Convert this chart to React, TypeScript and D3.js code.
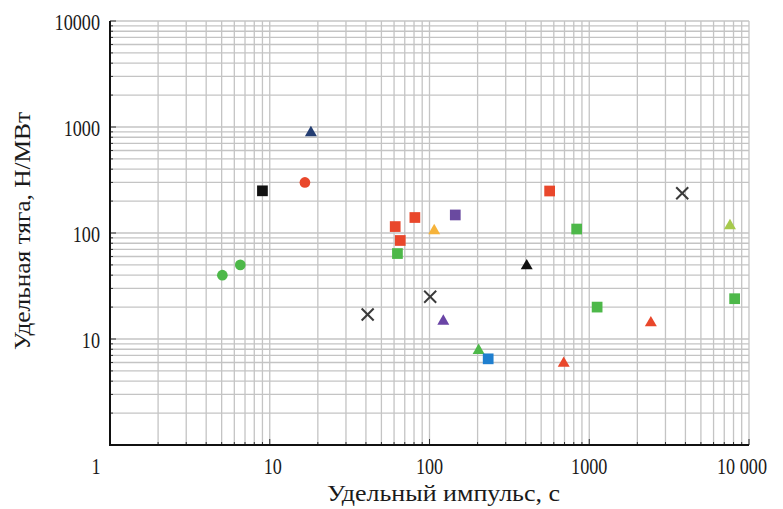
import { useRef, useEffect } from 'react';
import * as d3 from 'd3';

// [specific impulse, s ; specific thrust, N/MW]
const greenCircles = [[5.05, 40], [6.54, 50]];
const blackSquares = [[9, 250]];
const redCircles = [[16.6, 300]];
const navyTriangles = [[18.1, 884]];
const crosses = [[41, 17], [101, 25], [3820, 237]];
const redSquares = [[61, 115], [65.6, 85], [81, 140], [565, 249]];
const greenSquares = [[63, 64], [834, 109], [1120, 20], [8130, 24]];
const yellowTriangles = [[107, 105]];
const purpleSquares = [[145, 148]];
const purpleTriangles = [[122, 14.7]];
const greenTriangles = [[203, 7.8]];
const blueSquares = [[233, 6.5]];
const blackTriangles = [[406, 49]];
const redTriangles = [[692, 5.9], [2430, 14.2]];
const limeTriangles = [[7600, 117]];

const xTicks = [1, 10, 100, 1000, 10000];
const xTickLabels = ['1', '10', '100', '1000', '10 000'];
const yTicks = [10, 100, 1000, 10000];
const yTickLabels = ['10', '100', '1000', '10000'];

const xTitle = 'Удельный импульс, с';
const yTitle = 'Удельная тяга, Н/МВт';

const series = [
  { data: greenCircles, shape: 'circle', color: '#4db849' },
  { data: blackSquares, shape: 'square', color: '#111111' },
  { data: redCircles, shape: 'circle', color: '#e9472b' },
  { data: navyTriangles, shape: 'triangle', color: '#233d72' },
  { data: redSquares, shape: 'square', color: '#e9472b' },
  { data: greenSquares, shape: 'square', color: '#4db849' },
  { data: yellowTriangles, shape: 'triangle', color: '#f6b33a' },
  { data: purpleSquares, shape: 'square', color: '#6a4aa0' },
  { data: purpleTriangles, shape: 'triangle', color: '#6a45a6' },
  { data: greenTriangles, shape: 'triangle', color: '#4db849' },
  { data: blueSquares, shape: 'square', color: '#1f7fcf' },
  { data: blackTriangles, shape: 'triangle', color: '#111111' },
  { data: redTriangles, shape: 'triangle', color: '#e9472b' },
  { data: limeTriangles, shape: 'triangle', color: '#a6c94c' },
];

const Chart = () => {
  const svgRef = useRef<SVGSVGElement>(null);

  useEffect(() => {
    const width = 783;
    const height = 509;
    const left = 110, right = 749, top = 21, bottom = 445;
    // only DejaVu Serif is available as a serif face; squeeze it to Times-like widths
    const font = "'Liberation Serif', 'DejaVu Serif', serif";
    const squeeze = 0.79;

    const svg = d3.select(svgRef.current);
    svg.selectAll('*').remove();
    svg.attr('viewBox', `0 0 ${width} ${height}`);

    const x = d3.scaleLog().domain([1, 10000]).range([left, right]);
    const y = d3.scaleLog().domain([1, 10000]).range([bottom, top]);

    const minor: number[] = [];
    for (let e = 0; e < 4; e++) {
      for (let k = 1; k <= 10; k++) minor.push(k * Math.pow(10, e));
    }
    const gridVals = Array.from(new Set(minor));

    const grid = svg.append('g');
    grid.selectAll('.vx')
      .data(gridVals)
      .enter()
      .append('line')
      .attr('x1', d => x(d))
      .attr('x2', d => x(d))
      .attr('y1', top)
      .attr('y2', bottom)
      .attr('stroke', '#c4c4c4')
      .attr('stroke-width', 1.3);

    grid.selectAll('.hy')
      .data(gridVals)
      .enter()
      .append('line')
      .attr('x1', left)
      .attr('x2', right)
      .attr('y1', d => y(d))
      .attr('y2', d => y(d))
      .attr('stroke', '#c4c4c4')
      .attr('stroke-width', 1.3);

    // inner ticks
    const ticks = svg.append('g').attr('stroke', '#333');
    ticks.selectAll('.tx')
      .data(gridVals)
      .enter()
      .append('line')
      .attr('x1', d => x(d))
      .attr('x2', d => x(d))
      .attr('y1', bottom)
      .attr('y2', d => bottom - (xTicks.includes(d) ? 6 : 3))
      .attr('stroke-width', 1);
    ticks.selectAll('.ty')
      .data(gridVals)
      .enter()
      .append('line')
      .attr('y1', d => y(d))
      .attr('y2', d => y(d))
      .attr('x1', left)
      .attr('x2', d => left + (yTicks.includes(d) ? 6 : 3))
      .attr('stroke-width', 1);

    // axes
    svg.append('line')
      .attr('x1', left).attr('x2', left)
      .attr('y1', top).attr('y2', bottom + 1)
      .attr('stroke', '#111').attr('stroke-width', 2);
    svg.append('line')
      .attr('x1', left - 1).attr('x2', right)
      .attr('y1', bottom).attr('y2', bottom)
      .attr('stroke', '#111').attr('stroke-width', 2);

    // tick labels
    svg.append('g')
      .selectAll('g')
      .data(xTicks)
      .enter()
      .append('g')
      .attr('transform', d => {
        const dx = d === 1 ? -14 : d === 10 ? 3 : d === 10000 ? -7 : 0;
        return `translate(${x(d) + dx},474) scale(${squeeze},1)`;
      })
      .append('text')
      .attr('text-anchor', 'middle')
      .attr('fill', '#1a1a1a')
      .style('font-family', font)
      .attr('font-size', 23)
      .text((d, i) => xTickLabels[i]);

    svg.append('g')
      .selectAll('g')
      .data(yTicks)
      .enter()
      .append('g')
      .attr('transform', d => `translate(100,${y(d) + 8.5}) scale(${squeeze},1)`)
      .append('text')
      .attr('text-anchor', 'end')
      .attr('fill', '#1a1a1a')
      .style('font-family', font)
      .attr('font-size', 23)
      .text((d, i) => yTickLabels[i]);

    // titles
    svg.append('text')
      .attr('x', 327)
      .attr('y', 501)
      .attr('textLength', 233)
      .attr('lengthAdjust', 'spacingAndGlyphs')
      .attr('fill', '#1a1a1a')
      .style('font-family', font)
      .attr('font-size', 24)
      .text(xTitle);

    svg.append('text')
      .attr('transform', 'translate(30,350) rotate(-90)')
      .attr('textLength', 238)
      .attr('lengthAdjust', 'spacingAndGlyphs')
      .attr('fill', '#1a1a1a')
      .style('font-family', font)
      .attr('font-size', 24)
      .text(yTitle);

    // markers
    const symbols: Record<string, d3.SymbolType> = {
      circle: d3.symbolCircle,
      square: d3.symbolSquare,
      triangle: d3.symbolTriangle,
    };
    const sizes: Record<string, number> = { circle: 90, square: 115, triangle: 62 };

    const marks = svg.append('g');
    series.forEach(s => {
      marks.selectAll(null)
        .data(s.data)
        .enter()
        .append('path')
        .attr('transform', d => `translate(${x(d[0])},${y(d[1])})`)
        .attr('d', d3.symbol().type(symbols[s.shape]).size(sizes[s.shape])())
        .attr('fill', s.color);
    });

    const cross = marks.selectAll('.cross')
      .data(crosses)
      .enter()
      .append('g')
      .attr('transform', d => `translate(${x(d[0])},${y(d[1])})`)
      .attr('stroke', '#3a3a3a')
      .attr('stroke-width', 2);
    cross.append('line').attr('x1', -6).attr('y1', -6).attr('x2', 6).attr('y2', 6);
    cross.append('line').attr('x1', -6).attr('y1', 6).attr('x2', 6).attr('y2', -6);
  }, []);

  return <svg ref={svgRef} width={783} height={509} style={{ display: 'block' }}></svg>;
};

export default function App() {
  useEffect(() => {
    document.body.style.margin = '0';
  }, []);
  return (
    <div style={{ background: '#fff' }}>
      <Chart />
    </div>
  );
}
